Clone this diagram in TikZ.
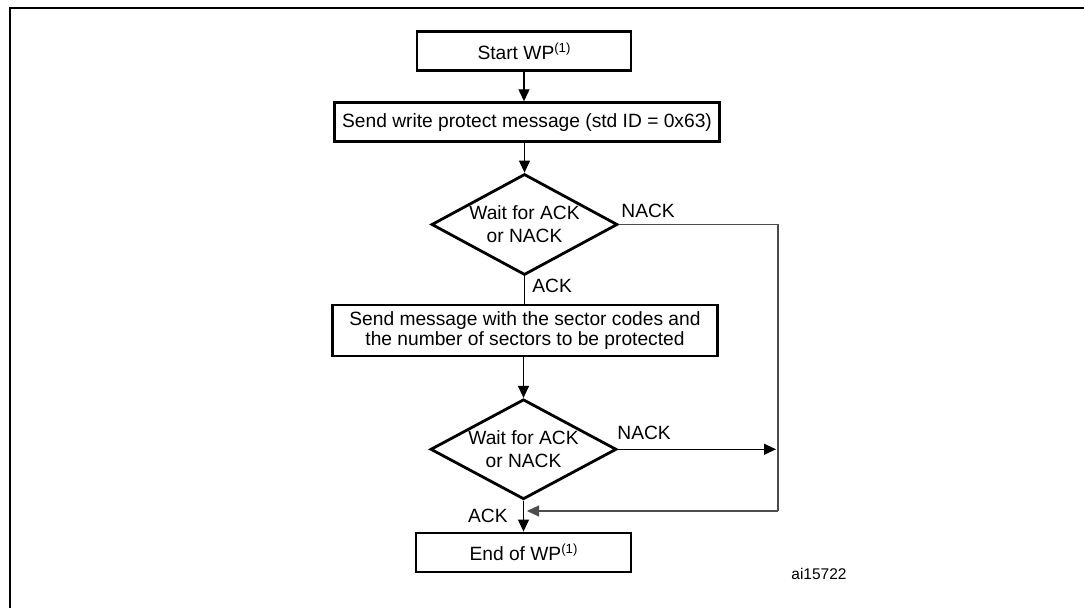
\documentclass[tikz,border=0pt]{standalone}
\usepackage{fontspec}
\setmainfont{Liberation Sans}
\usetikzlibrary{shapes.geometric,arrows.meta}
\newcommand{\supone}{\raisebox{3.2pt}{\fontsize{6.6}{7}\selectfont(1)}}
\begin{document}
\begin{tikzpicture}[x=0.5pt,y=-0.5pt,
  box/.style={draw=black,line width=1.4pt,inner sep=0pt,align=center,
    font=\fontsize{9.6}{8.9}\selectfont},
  dia/.style={draw=black,line width=1.4pt,diamond,inner sep=0pt,
    minimum width=93pt,minimum height=50.5pt},
  diatext/.style={inner sep=0pt,align=center,font=\fontsize{9.6}{11.5}\selectfont},
  lbl/.style={inner sep=0pt,font=\fontsize{9.6}{11}\selectfont},
  arr/.style={line width=0.6pt,-{Triangle[length=6pt,width=5.5pt]}},
  flow/.style={line width=0.6pt},
  route/.style={line width=0.6pt,draw=black!70},
  frame/.style={line width=1.1pt,draw=black}]
\useasboundingbox (0,0) rectangle (1084,608);
% frame
\draw[frame] (1090,8) -- (10,8) -- (10,615);
% nodes
\node[box,minimum width=107pt,minimum height=19.5pt] (start) at (524,51.2) {Start WP\supone};
\node[box,minimum width=192.5pt,minimum height=19.5pt] (send1) at (527,122.2) {Send write protect message (std ID = 0x63)};
\node[dia] (d1) at (524.5,224.5) {};
\node[diatext] (t1) at (d1.center) {Wait for ACK\\or NACK};
\node[box,minimum width=192.5pt,minimum height=25.5pt] (send2) at (525,330.5) {Send message with the sector codes and\\the number of sectors to be protected};
\node[dia,minimum height=50pt] (d2) at (523.5,449.3) {};
\node[diatext] (t2) at (d2.center) {Wait for ACK\\or NACK};
\node[box,minimum width=107.5pt,minimum height=19.5pt] (end) at (523.5,552.5) {End of WP\supone};
% labels
\node[lbl,anchor=base west] (n1) at (621,218) {NACK};
\node[lbl,anchor=base west] (a1) at (532,292.7) {ACK};
\node[lbl,anchor=base west] (n2) at (617,440) {NACK};
\node[lbl,anchor=base east] (a2) at (508,523) {ACK};
\node[inner sep=0pt,anchor=base west,font=\fontsize{7.75}{9}\selectfont] (ref) at (791,580) {ai15722};
% route coordinates
\coordinate (cr) at (778,224.5);
\coordinate (cb) at (778,511);
\coordinate (join) at (527,511);
% connectors
\draw[arr] (start.south) -- (start.south |- send1.north);
\draw[arr] (d1.north |- send1.south) -- (d1.north);
\draw[flow] (d1.south) -- (d1.south |- send2.north);
\draw[arr] (d2.north |- send2.south) -- (d2.north);
\draw[arr] (d2.south) -- (d2.south |- end.north);
\draw[route] (d1.east) -- (cr) -- (cb);
\draw[route,arr,draw=black!70] (cb) -- (join);
\draw[arr] (d2.east) -- ([xshift=-1pt]d2.east -| cr);
\end{tikzpicture}
\end{document}
